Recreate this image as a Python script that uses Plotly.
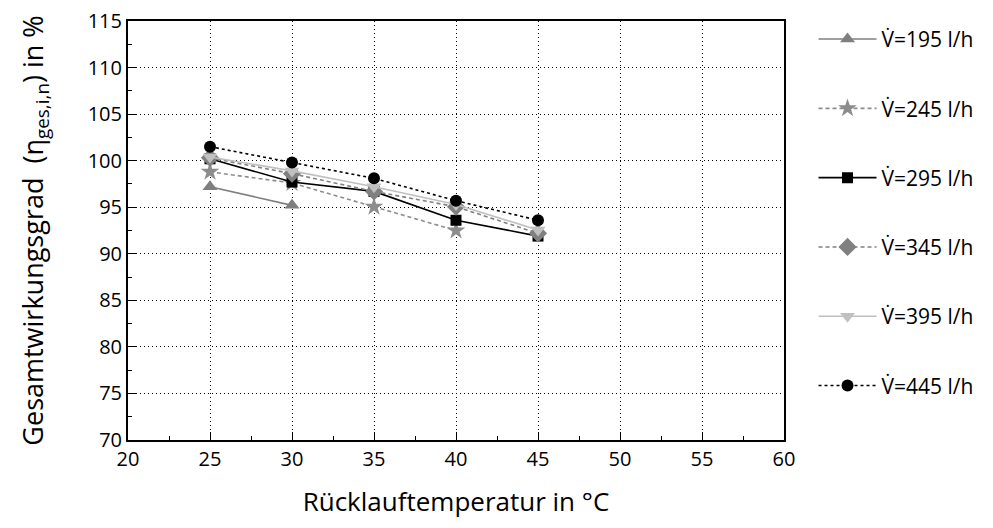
import plotly.graph_objects as go

# Data
temps = [25, 30, 35, 40, 45]
labels = ["V̇=195 l/h", "V̇=245 l/h", "V̇=295 l/h", "V̇=345 l/h", "V̇=395 l/h", "V̇=445 l/h"]
v195 = [97.2, 95.2, None, None, None]
v245 = [98.8, 97.6, 95.05, 92.5, None]
v295 = [100.2, 97.7, 96.7, 93.6, 91.9]
v345 = [100.3, 98.6, 96.7, 95.05, 92.2]
v395 = [100.4, 98.9, 97.2, 95.3, 92.55]
v445 = [101.5, 99.8, 98.1, 95.7, 93.6]

series = [v195, v245, v295, v345, v395, v445]
styles = [
    dict(color="#7f7f7f", dash="solid", symbol="triangle-up", size=13),
    dict(color="#8c8c8c", dash="4px,3px", symbol="star", size=14),
    dict(color="#000000", dash="solid", symbol="square", size=11),
    dict(color="#808080", dash="4px,3px", symbol="diamond", size=14),
    dict(color="#c0c0c0", dash="solid", symbol="triangle-down", size=13),
    dict(color="#000000", dash="3px,3px", symbol="circle", size=12),
]

fig = go.Figure()
for i, (name, ys, st) in enumerate(zip(labels, series, styles)):
    fig.add_trace(go.Scatter(
        x=temps, y=ys, name=name, mode="lines+markers",
        legendgroup=f"g{i}",
        line=dict(color=st["color"], dash=st["dash"], width=1.6),
        marker=dict(symbol=st["symbol"], size=st["size"], color=st["color"]),
        connectgaps=False,
    ))

font_family = "'Open Sans', Lato, sans-serif"
axis_common = dict(
    showline=True, linecolor="black", linewidth=2, mirror=True,
    ticks="inside", ticklen=8, tickwidth=1.2, tickcolor="black",
    showgrid=True, gridcolor="black", griddash="1px,3px", gridwidth=1,
    zeroline=False,
    tickfont=dict(size=20, color="black", family=font_family),
)

fig.update_xaxes(
    range=[20, 60], dtick=5, tick0=20,
    minor=dict(ticks="inside", ticklen=4, dtick=2.5, tickcolor="black", showgrid=False),
    title=dict(text="Rücklauftemperatur in °C", font=dict(size=26, color="black", family=font_family), standoff=22),
    **axis_common,
)
fig.update_yaxes(
    range=[70, 115], dtick=5, tick0=70,
    minor=dict(ticks="inside", ticklen=4, dtick=2.5, tickcolor="black", showgrid=False),
    title=dict(text="Gesamtwirkungsgrad  (η<sub>ges,i,n</sub>) in %", font=dict(size=27, color="black", family=font_family), standoff=36),
    **axis_common,
)

fig.update_layout(
    width=993, height=528,
    margin=dict(l=128, r=209, t=21, b=88, autoexpand=False),
    plot_bgcolor="white", paper_bgcolor="white",
    font=dict(family=font_family, color="black"),
    legend=dict(
        x=1.045, y=1.005, xanchor="left", yanchor="top",
        font=dict(size=21, color="black", family=font_family),
        traceorder="grouped", tracegroupgap=39,
        bgcolor="rgba(0,0,0,0)", itemwidth=58, maxheight=1,
    ),
    showlegend=True,
)

fig.write_html("out.html")
